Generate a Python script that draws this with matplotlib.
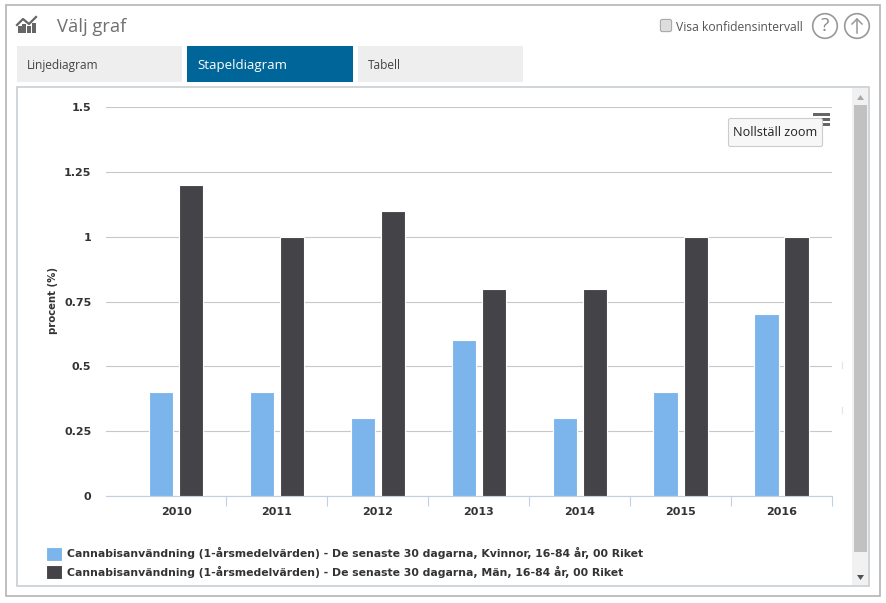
import matplotlib
matplotlib.use('Agg')
from matplotlib import pyplot as plt
from matplotlib.patches import Rectangle, Circle, FancyBboxPatch, Polygon

years = ['2010', '2011', '2012', '2013', '2014', '2015', '2016']
kvinnor = [0.4, 0.4, 0.3, 0.6, 0.3, 0.4, 0.7]
man = [1.2, 1.0, 1.1, 0.8, 0.8, 1.0, 1.0]
y_ticks = [0, 0.25, 0.5, 0.75, 1, 1.25, 1.5]
y_labels = ['0', '0.25', '0.5', '0.75', '1', '1.25', '1.5']
label_k = 'Cannabisanvändning (1-årsmedelvärden) - De senaste 30 dagarna, Kvinnor, 16-84 år, 00 Riket'
label_m = 'Cannabisanvändning (1-årsmedelvärden) - De senaste 30 dagarna, Män, 16-84 år, 00 Riket'

W, H = 886, 603
fig = plt.figure(figsize=(W / 100, H / 100), dpi=100, facecolor='white')

# ram, flikar och knappar ritas i pixelkoordinater
bg = fig.add_axes([0, 0, 1, 1])
bg.set_xlim(0, W)
bg.set_ylim(H, 0)
bg.axis('off')


def box(x0, y0, x1, y1, fc='none', ec='none', lw=1.0, z=1):
    bg.add_patch(Rectangle((x0, y0), x1 - x0, y1 - y0, facecolor=fc, edgecolor=ec, linewidth=lw, zorder=z))


box(6, 5, 880, 596, ec='#b4b4b4', lw=1.2)
box(17, 87, 869, 586, ec='#c8ced4', lw=1.2)

# flikar
box(17, 46, 182, 82, fc='#eeeeee')
box(187, 46, 353, 82, fc='#006699')
box(358, 46, 523, 82, fc='#eeeeee')
bg.text(27, 65.5, 'Linjediagram', fontsize=8.6, family='Open Sans', color='#444444', va='center')
bg.text(197, 65.5, 'Stapeldiagram', fontsize=9.5, family='Open Sans', color='white', va='center')
bg.text(368, 65.5, 'Tabell', fontsize=8.6, family='Open Sans', color='#444444', va='center')

# rubrik med ikon
bg.text(57, 27, 'Välj graf', fontsize=13.2, family='Open Sans', color='#707070', va='center')
for x0, top_y in [(18, 26), (22, 24), (27, 26), (32, 23)]:
    box(x0, top_y, x0 + 4, 33, fc='#666666')
bg.plot([17, 23, 29, 36], [25, 19, 24, 17], color='#666666', lw=1.6)

# konfidensintervall och runda knappar
bg.add_patch(FancyBboxPatch((661, 20), 10, 11, boxstyle='round,pad=0.6,rounding_size=2',
                            facecolor='#dddddd', edgecolor='#aaaaaa', linewidth=0.8))
bg.text(676, 27.5, 'Visa konfidensintervall', fontsize=8.7, family='Open Sans', color='#555555', va='center')
for cx in (825, 857):
    bg.add_patch(Circle((cx, 26), 12.3, facecolor='white', edgecolor='#999999', linewidth=1.2))
bg.text(825, 26, '?', fontsize=14, family='Open Sans', color='#888888', ha='center', va='center')
bg.plot([857, 857], [33, 19], color='#999999', lw=1.1)
bg.plot([852, 857, 862], [24, 19, 24], color='#999999', lw=1.1)

# rullningslist
box(852, 88, 868, 585, fc='#f1f1f1')
box(854, 105, 867, 552, fc='#c1c1c1')
bg.add_patch(Polygon([(857, 100), (860.5, 95), (864, 100)], facecolor='#a8a8a8'))
bg.add_patch(Polygon([(857, 575), (860.5, 580), (864, 575)], facecolor='#505050'))

# stapeldiagram
x0, x1, y_top, y_bot = 106, 832, 107, 496
ax = fig.add_axes([x0 / W, 1 - y_bot / H, (x1 - x0) / W, (y_bot - y_top) / H])
ax.patch.set_alpha(0)
xs = list(range(len(years)))
bar_w = 0.24
offset = 0.149
ax.bar([x - offset for x in xs], kvinnor, bar_w, color='#7cb5ec', edgecolor='white', linewidth=0.8,
       label=label_k, zorder=3)
ax.bar([x + offset for x in xs], man, bar_w, color='#434348', edgecolor='white', linewidth=0.8,
       label=label_m, zorder=3)
ax.set_xlim(-0.694, 6.5)
ax.set_ylim(0, 1.5)
ax.set_yticks(y_ticks)
ax.set_yticklabels(y_labels, fontsize=8, fontweight='bold', color='#333333')
ax.tick_params(axis='y', length=0, pad=10.5)
ax.set_xticks(xs)
ax.set_xticklabels(years, fontsize=8, fontweight='bold', color='#333333')
ax.tick_params(axis='x', which='major', length=0, pad=8)
ax.set_xticks([x + 0.5 for x in xs], minor=True)
ax.tick_params(axis='x', which='minor', length=7.2, width=0.8, color='#c0d0e0')
ax.grid(axis='y', color='#c8c8c8', linewidth=0.8, zorder=0)
ax.set_axisbelow(True)
for side in ('top', 'right', 'left'):
    ax.spines[side].set_visible(False)
ax.spines['bottom'].set_color('#c0d0e0')
ax.spines['bottom'].set_linewidth(0.8)
bg.text(53, 300, 'procent (%)', fontsize=7.3, fontweight='bold', color='#333333', rotation=90,
        ha='center', va='center')

fig.legend(loc='lower left', bbox_to_anchor=(46 / W, 1 - 579 / H), frameon=False, borderpad=0, borderaxespad=0,
           prop={'size': 7.8, 'weight': 'bold'}, labelcolor='#333333', handlelength=1.5, handleheight=1.55,
           handletextpad=0.42, labelspacing=0.45)

# Nollställ zoom och menyikon ovanpå diagrammet
top = fig.add_axes([0, 0, 1, 1])
top.set_xlim(0, W)
top.set_ylim(H, 0)
top.axis('off')
for y0, x_left in [(112.5, 813), (117.5, 818), (122.5, 823)]:
    top.add_patch(Rectangle((x_left, y0), 830 - x_left, 3, facecolor='#666666', linewidth=0))
top.add_patch(FancyBboxPatch((729, 119), 93, 27, boxstyle='round,pad=0.5,rounding_size=2',
                             facecolor='#f7f7f7', edgecolor='#cccccc', linewidth=0.8))
top.text(775.5, 132, 'Nollställ zoom', fontsize=9.1, family='Open Sans', color='#222222', ha='center', va='center')
top.plot([842, 842], [362, 368], color='#e4e4e4', lw=0.8)
top.plot([842, 842], [407, 413], color='#e4e4e4', lw=0.8)

fig.savefig('out.png', dpi=100)
